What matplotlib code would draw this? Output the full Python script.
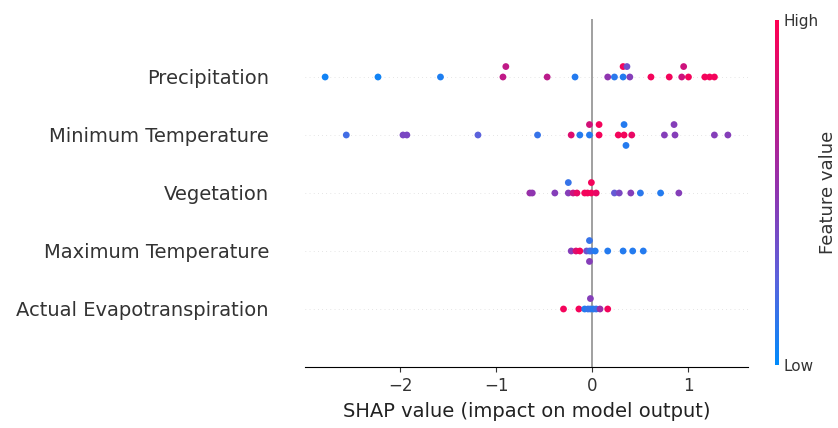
import numpy as np
import matplotlib
matplotlib.use("Agg")
import matplotlib.pyplot as plt
from matplotlib.colors import LinearSegmentedColormap, Normalize
from matplotlib.cm import ScalarMappable

# features, top row first
features = ["Precipitation", "Minimum Temperature", "Vegetation",
            "Maximum Temperature", "Actual Evapotranspiration"]

# SHAP values per sample and the matching (scaled 0-1) feature value
precip_shap = [-2.78, -2.23, -1.58, -0.93, -0.90, -0.47, -0.18, 0.16, 0.23,
               0.32, 0.32, 0.39, 0.36, 0.61, 0.80, 0.93, 0.95, 1.00, 1.17, 1.22, 1.27]
precip_val = [0.05, 0.05, 0.08, 0.72, 0.72, 0.70, 0.10, 0.50, 0.12,
              0.10, 0.95, 0.45, 0.35, 0.95, 0.95, 0.78, 0.78, 0.95, 0.95, 0.95, 0.95]

mintemp_shap = [-2.56, -1.97, -1.93, -1.19, -0.57, -0.22, -0.13, -0.03, -0.03,
                0.07, 0.07, 0.27, 0.33, 0.33, 0.35, 0.41, 0.75, 0.86, 0.85, 1.27, 1.41]
mintemp_val = [0.18, 0.40, 0.40, 0.25, 0.15, 0.85, 0.10, 0.10, 0.80,
               0.95, 0.95, 0.95, 0.95, 0.10, 0.10, 0.90, 0.45, 0.45, 0.45, 0.45, 0.45]

veg_shap = [-0.65, -0.625, -0.39, -0.25, -0.25, -0.20, -0.16, -0.08, -0.05,
            -0.01, -0.01, 0.04, 0.23, 0.28, 0.40, 0.50, 0.71, 0.90]
veg_val = [0.55, 0.50, 0.45, 0.45, 0.15, 0.75, 0.90, 0.95, 0.95,
           0.95, 0.95, 0.90, 0.30, 0.40, 0.45, 0.12, 0.10, 0.45]

maxtemp_shap = [-0.22, -0.17, -0.13, -0.06, -0.03, -0.03, -0.03, -0.01, 0.03,
                0.16, 0.32, 0.42, 0.53]
maxtemp_val = [0.45, 0.85, 0.95, 0.35, 0.20, 0.15, 0.45, 0.15, 0.10,
               0.10, 0.10, 0.10, 0.10]

aet_shap = [-0.30, -0.14, -0.08, -0.045, -0.02, -0.02, 0.01, 0.04, 0.08, 0.16]
aet_val = [0.95, 0.95, 0.10, 0.15, 0.15, 0.45, 0.10, 0.15, 0.55, 0.95]

shap_rows = [precip_shap, mintemp_shap, veg_shap, maxtemp_shap, aet_shap]
val_rows = [precip_val, mintemp_val, veg_val, maxtemp_val, aet_val]

cmap = LinearSegmentedColormap.from_list(
    "red_blue", ["#008bfb", "#5b62dc", "#8f35b0", "#c61582", "#ff0052"])
axis_color = "#333333"


def swarm_offsets(vals, nbins=100, row_height=0.4):
    # stack points falling into the same bin alternately above/below the row
    vals = np.asarray(vals, float)
    quant = np.round(nbins * (vals - vals.min()) / (vals.max() - vals.min() + 1e-8))
    order = np.argsort(quant, kind="stable")
    ys = np.zeros(len(vals))
    layer = 0
    last_bin = -1
    for i in order:
        if quant[i] != last_bin:
            layer = 0
        ys[i] = np.ceil(layer / 2) * ((layer % 2) * 2 - 1)
        layer += 1
        last_bin = quant[i]
    ys *= 0.9 * (row_height / np.max(ys + 1))
    return ys


fig = plt.figure(figsize=(8.38, 4.28), dpi=100)
ax = fig.add_axes([305 / 838, 1 - 367 / 428, 443 / 838, 348 / 428])

ax.axvline(x=0, color="#999999", lw=1.3, zorder=-1)
n = len(features)
for i, (sv, fv) in enumerate(zip(shap_rows, val_rows)):
    pos = n - 1 - i
    ax.axhline(y=pos, color="#cccccc", lw=0.5, dashes=(1, 5), zorder=-1)
    ys = swarm_offsets(sv)
    ax.scatter(sv, pos + ys, c=fv, cmap=cmap, vmin=0, vmax=1, s=24,
               linewidth=0, alpha=1, zorder=3)

ax.set_yticks(range(n))
ax.set_yticklabels(features[::-1], fontsize=14)
ax.set_ylim(-1, n)
ax.xaxis.set_ticks_position("bottom")
ax.yaxis.set_ticks_position("none")
for side in ["right", "top", "left"]:
    ax.spines[side].set_visible(False)
ax.tick_params(color=axis_color, labelcolor=axis_color)
ax.tick_params("y", length=0, pad=26)
ax.tick_params("x", labelsize=12)
ax.set_xlabel("SHAP value (impact on model output)", fontsize=14, color="#222222", labelpad=5)

cax = fig.add_axes([775 / 838, 1 - 365 / 428, 4 / 838, 345 / 428])
sm = ScalarMappable(norm=Normalize(0, 1), cmap=cmap)
sm.set_array([0, 1])
cb = fig.colorbar(sm, cax=cax, ticks=[0, 1])
cb.set_ticklabels(["Low", "High"])
cb.ax.tick_params(labelsize=11, length=0, labelcolor=axis_color)
cb.set_label("Feature value", size=13, labelpad=0, color=axis_color)
cb.outline.set_visible(False)

fig.savefig("out.png", dpi=100)
